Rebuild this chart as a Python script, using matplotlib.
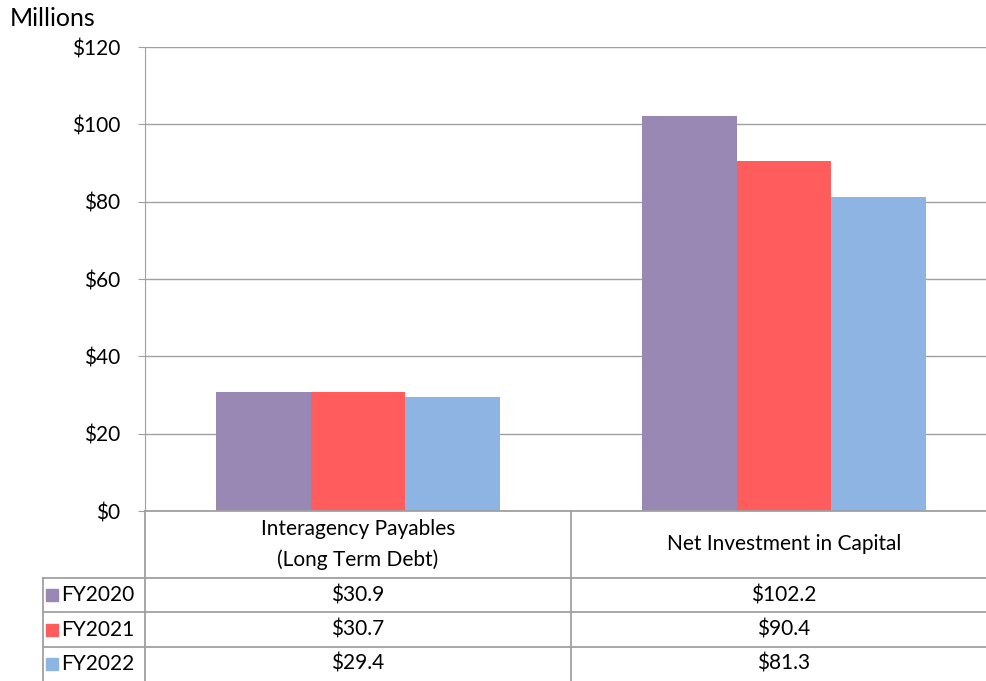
import matplotlib.pyplot as plt
import numpy as np

plt.rcParams['font.family'] = ['Lato', 'DejaVu Sans']

categories = ["Interagency Payables\n(Long Term Debt)", "Net Investment in Capital"]
series = ["FY2020", "FY2021", "FY2022"]
fy2020 = [30.9, 102.2]
fy2021 = [30.7, 90.4]
fy2022 = [29.4, 81.3]
values = [fy2020, fy2021, fy2022]
colors = ["#9A88B4", "#FF5D5D", "#8EB4E3"]
yticks = [0, 20, 40, 60, 80, 100, 120]

W, H = 987, 681
fig = plt.figure(figsize=(W / 100, H / 100), dpi=100)

# plot area in pixels: left 145, right ~997 (cropped), top 47, bottom 511
L, R, T, B = 145, 997, 47, 511
ax = fig.add_axes([L / W, 1 - B / H, (R - L) / W, (B - T) / H])

x = np.arange(len(categories))
bw = 0.667 / 3
for i, (name, vals) in enumerate(zip(series, values)):
    ax.bar(x + (i - 1) * bw, vals, width=bw, color=colors[i], zorder=3)

ax.set_xlim(-0.5, len(categories) - 0.5)
ax.set_ylim(0, 120)
ax.set_yticks(yticks)
ax.set_yticklabels([f"${v}" for v in yticks], fontsize=15)
ax.set_xticks([])
ax.grid(axis='y', color='#a0a0a0', lw=1, zorder=0)
for s in ['top', 'right', 'bottom']:
    ax.spines[s].set_visible(False)
ax.spines['left'].set_color('#a0a0a0')
ax.tick_params(axis='y', length=5, color='#a0a0a0', pad=13)

fig.text(10 / W, 1 - 18 / H, "Millions", fontsize=18, va='center', ha='left')

# data table below the axis, drawn in pixel coordinates
tab = fig.add_axes([0, 0, 1, 1])
tab.set_xlim(0, W)
tab.set_ylim(H, 0)
tab.axis('off')
tab.patch.set_alpha(0)

lc = '#a0a0a0'
row_y = [578, 612, 647, 681]
cat_w = (R - L) / len(categories)
tab.plot([L, W], [B, B], color=lc, lw=1.3)
for yy in row_y[:-1]:
    tab.plot([43, W], [yy, yy], color=lc, lw=1.3)
tab.plot([L, L], [B, H], color=lc, lw=1.3)
tab.plot([43, 43], [row_y[0], H], color=lc, lw=1.3)
for j in range(1, len(categories)):
    xx = L + j * cat_w
    tab.plot([xx, xx], [B, H], color=lc, lw=1.3)

for j, cat in enumerate(categories):
    cx = L + (j + 0.5) * cat_w
    tab.text(cx, (B + row_y[0]) / 2, cat, ha='center', va='center', fontsize=15,
             linespacing=1.6)

for i, name in enumerate(series):
    cy = (row_y[i] + row_y[i + 1]) / 2
    tab.add_patch(plt.Rectangle((46, cy - 6), 12, 12, color=colors[i]))
    tab.text(61, cy, name, ha='left', va='center', fontsize=15)
    for j in range(len(categories)):
        cx = L + (j + 0.5) * cat_w
        tab.text(cx, cy, f"${values[i][j]:.1f}", ha='center', va='center', fontsize=15)

fig.savefig("out.png", dpi=100)
